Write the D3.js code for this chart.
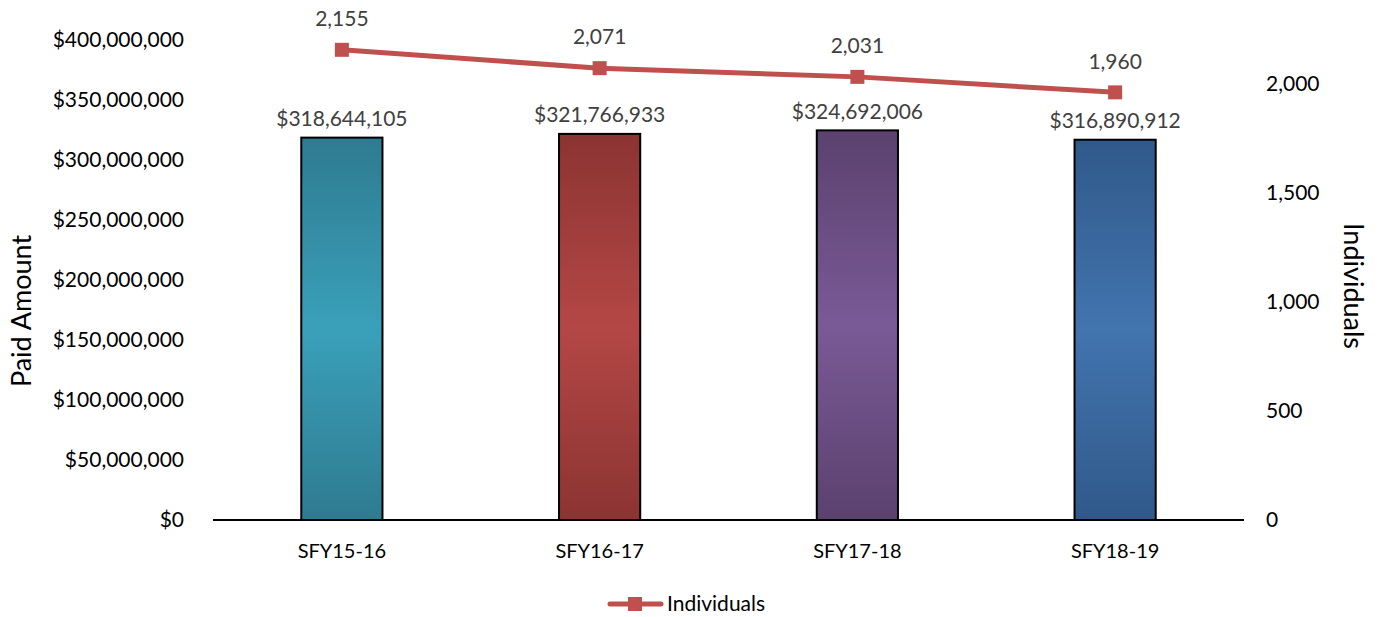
<!DOCTYPE html>
<html><head><meta charset="utf-8">
<script src="https://cdn.jsdelivr.net/npm/d3@7"></script>
<style>body{margin:0;background:#fff}svg{display:block;font-family:Lato,"Open Sans",sans-serif}</style>
</head><body><svg id="c" width="1378" height="617"></svg>
<script>
const categories = ["SFY15-16","SFY16-17","SFY17-18","SFY18-19"];
const paidAmount = [318644105, 321766933, 324692006, 316890912];
const individuals = [2155, 2071, 2031, 1960];
const leftTicks = [0,50000000,100000000,150000000,200000000,250000000,300000000,350000000,400000000];
const rightTicks = [0,500,1000,1500,2000];
const barColors = [["#2E7B90","#3AA0BA"],["#8B3432","#B44745"],["#5A416E","#7A5A96"],["#30598A","#4274AE"]];

const svg = d3.select("#c");
const m = {l:213, r:1244, t:40, b:520};
const x = d3.scaleBand().domain(categories).range([m.l,m.r]).paddingInner(0.685).paddingOuter(0.3425);
const yL = d3.scaleLinear().domain([0,400000000]).range([m.b,m.t]);
const yR = d3.scaleLinear().domain([0,2200]).range([m.b,m.t]);

const defs = svg.append("defs");
barColors.forEach((c,i)=>{
  const g = defs.append("linearGradient").attr("id","g"+i).attr("x1",0).attr("y1",0).attr("x2",0).attr("y2",1);
  g.append("stop").attr("offset","0%").attr("stop-color",c[0]);
  g.append("stop").attr("offset","50%").attr("stop-color",c[1]);
  g.append("stop").attr("offset","100%").attr("stop-color",c[0]);
});

const fmtD = v => "$" + d3.format(",")(v);
svg.append("g").selectAll("text").data(leftTicks).join("text")
  .attr("x",184).attr("y",d=>yL(d)).attr("dy","0.35em").attr("text-anchor","end")
  .attr("font-size",21).attr("fill","#000").text(fmtD);
svg.append("g").selectAll("text").data(rightTicks).join("text")
  .attr("x",1266).attr("y",d=>yR(d)).attr("dy","0.35em").attr("text-anchor","start")
  .attr("font-size",21).attr("fill","#000").text(d3.format(","));

svg.append("g").selectAll("rect").data(paidAmount).join("rect")
  .attr("x",(d,i)=>x(categories[i])).attr("width",x.bandwidth())
  .attr("y",d=>yL(d)).attr("height",d=>m.b-yL(d))
  .attr("fill",(d,i)=>`url(#g${i})`).attr("stroke","#000").attr("stroke-width",2);
svg.append("g").selectAll("text").data(paidAmount).join("text")
  .attr("x",(d,i)=>x(categories[i])+x.bandwidth()/2).attr("y",d=>yL(d)-19).attr("dy","0.35em")
  .attr("text-anchor","middle").attr("font-size",21).attr("fill","#404040").text(fmtD);

svg.append("line").attr("x1",m.l).attr("x2",m.r).attr("y1",m.b).attr("y2",m.b).attr("stroke","#000").attr("stroke-width",2);

svg.append("g").selectAll("text").data(categories).join("text")
  .attr("x",d=>x(d)+x.bandwidth()/2).attr("y",551).attr("dy","0.35em")
  .attr("text-anchor","middle").attr("font-size",20).attr("fill","#000").text(d=>d);

const cx = (i)=>x(categories[i])+x.bandwidth()/2;
svg.append("path").datum(individuals)
  .attr("d",d3.line().x((d,i)=>cx(i)).y(d=>yR(d)))
  .attr("fill","none").attr("stroke","#C0504D").attr("stroke-width",5).attr("stroke-linecap","round");
svg.append("g").selectAll("rect").data(individuals).join("rect")
  .attr("x",(d,i)=>cx(i)-7).attr("y",d=>yR(d)-7).attr("width",14).attr("height",14).attr("fill","#C0504D");
svg.append("g").selectAll("text").data(individuals).join("text")
  .attr("x",(d,i)=>cx(i)).attr("y",d=>yR(d)-31).attr("dy","0.35em")
  .attr("text-anchor","middle").attr("font-size",21).attr("fill","#404040").text(d3.format(","));

svg.append("text").attr("transform","translate(22,311) rotate(-90)").attr("text-anchor","middle")
  .attr("dy","0.35em").attr("font-size",27).attr("fill","#000").text("Paid Amount");
svg.append("text").attr("transform","translate(1353,286) rotate(90)").attr("text-anchor","middle")
  .attr("dy","0.35em").attr("font-size",27).attr("fill","#000").text("Individuals");

svg.append("line").attr("x1",610).attr("x2",661).attr("y1",604).attr("y2",604).attr("stroke","#C0504D").attr("stroke-width",5).attr("stroke-linecap","round");
svg.append("rect").attr("x",628).attr("y",597).attr("width",14).attr("height",14).attr("fill","#C0504D");
svg.append("text").attr("x",667).attr("y",604).attr("dy","0.35em").attr("font-size",21).attr("fill","#000").text("Individuals");
</script></body></html>
